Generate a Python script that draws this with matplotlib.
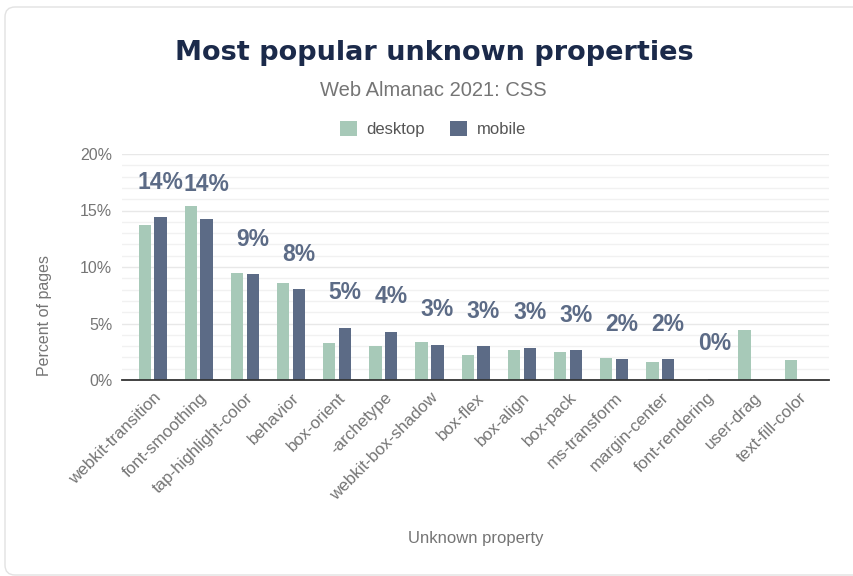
import matplotlib
matplotlib.use("Agg")
import matplotlib.pyplot as plt
import numpy as np
from matplotlib.patches import Patch, FancyBboxPatch
import matplotlib.transforms as mtransforms

plt.rcParams['font.family'] = ['Liberation Sans', 'DejaVu Sans']

# ---- data ----
categories = ["webkit-transition", "font-smoothing", "tap-highlight-color", "behavior",
              "box-orient", "-archetype", "webkit-box-shadow", "box-flex", "box-align",
              "box-pack", "ms-transform", "margin-center", "font-rendering", "user-drag",
              "text-fill-color"]
desktop = [13.7, 15.4, 9.46, 8.57, 3.25, 3.0, 3.4, 2.25, 2.66, 2.51, 1.98, 1.62, 0.03, 4.4, 1.77]
mobile = [14.4, 14.25, 9.34, 8.04, 4.64, 4.29, 3.13, 3.0, 2.87, 2.63, 1.86, 1.86, 0.12, np.nan, np.nan]
series_names = ["desktop", "mobile"]
y_ticks = [0, 5, 10, 15, 20]
y_tick_labels = ["0%", "5%", "10%", "15%", "20%"]

title = "Most popular unknown properties"
subtitle = "Web Almanac 2021: CSS"
x_label = "Unknown property"
y_label = "Percent of pages"

DESK = "#a7c9b8"
MOB = "#5c6b86"
GRAY = "#757575"

W, H = 854, 576
fig = plt.figure(figsize=(W / 100, H / 100), dpi=100)

# card border
card = FancyBboxPatch((5 / 100, 1 / 100), 9.0, 5.68,
                      boxstyle="round,pad=0,rounding_size=0.1",
                      transform=fig.dpi_scale_trans, facecolor="white",
                      edgecolor="#e2e2e2", linewidth=1.0, zorder=-10)
fig.patches.append(card)

ax = fig.add_axes([122 / W, 1 - 380 / H, (829.3 - 122) / W, (380 - 154) / H])
ax.set_facecolor("none")
ax.set_zorder(2)

x = np.arange(len(categories))
bw = 0.267
off = 0.171
desk_arr = np.array(desktop, dtype=float)
mob_arr = np.array(mobile, dtype=float)
mask = ~np.isnan(mob_arr)

ax.bar(x - off, desk_arr, bw, color=DESK, zorder=3)
ax.bar(x[mask] + off, mob_arr[mask], bw, color=MOB, zorder=3)

for i in x[mask]:
    ax.annotate(f"{int(round(mob_arr[i]))}%", xy=(i + off, mob_arr[i]),
                xytext=(0, 25), textcoords="offset points",
                ha="center", va="center", fontsize=16.5, fontweight="bold",
                color=MOB, zorder=4)

ax.set_xlim(-0.663, len(categories) - 1 + 0.663)
ax.set_ylim(0, 20)
ax.set_yticks(y_ticks)
ax.set_yticklabels(y_tick_labels)
ax.set_yticks(np.arange(0, 21, 1), minor=True)
ax.yaxis.grid(True, which="major", color="#e8e8e8", lw=1.0, zorder=0)
ax.yaxis.grid(True, which="minor", color="#f1f1f1", lw=1.0, zorder=0)
ax.set_axisbelow(True)
for s in ["top", "right", "left"]:
    ax.spines[s].set_visible(False)
ax.spines["bottom"].set_color("#333333")
ax.spines["bottom"].set_linewidth(1.3)
ax.spines["bottom"].set_zorder(5)

ax.tick_params(axis="both", which="both", length=0)
ax.tick_params(axis="y", labelsize=11.5, labelcolor=GRAY, pad=7)
ax.set_xticks(x)
ax.set_xticklabels(categories, rotation=45, ha="right", va="center",
                   rotation_mode="anchor", fontsize=12.2, color=GRAY)
ax.tick_params(axis="x", pad=11)
shift = mtransforms.ScaledTranslation(6 / 100, 0, fig.dpi_scale_trans)
for lbl in ax.get_xticklabels():
    lbl.set_transform(lbl.get_transform() + shift)

fig.text(434 / W, 1 - 60 / H, title, ha="center", va="baseline",
         fontsize=19.5, family=["DejaVu Sans"], fontweight="heavy", color="#1b2a4a")
fig.text(433 / W, 1 - 95.5 / H, subtitle, ha="center", va="baseline",
         fontsize=14.5, color=GRAY)

handles = [Patch(facecolor=DESK, edgecolor="none"), Patch(facecolor=MOB, edgecolor="none")]
fig.legend(handles, series_names, loc="center", bbox_to_anchor=(433 / W, 1 - 129 / H),
           ncol=2, frameon=False, fontsize=12, handlelength=1.0, handleheight=1.0,
           handletextpad=0.6, columnspacing=1.5, labelcolor="#555555")

fig.text(45 / W, 1 - 315 / H, y_label, rotation=90, ha="center", va="center",
         fontsize=11.5, color=GRAY)
fig.text(476 / W, 1 - 538 / H, x_label, ha="center", va="center",
         fontsize=12, color=GRAY)

fig.savefig("out.png", dpi=100)
